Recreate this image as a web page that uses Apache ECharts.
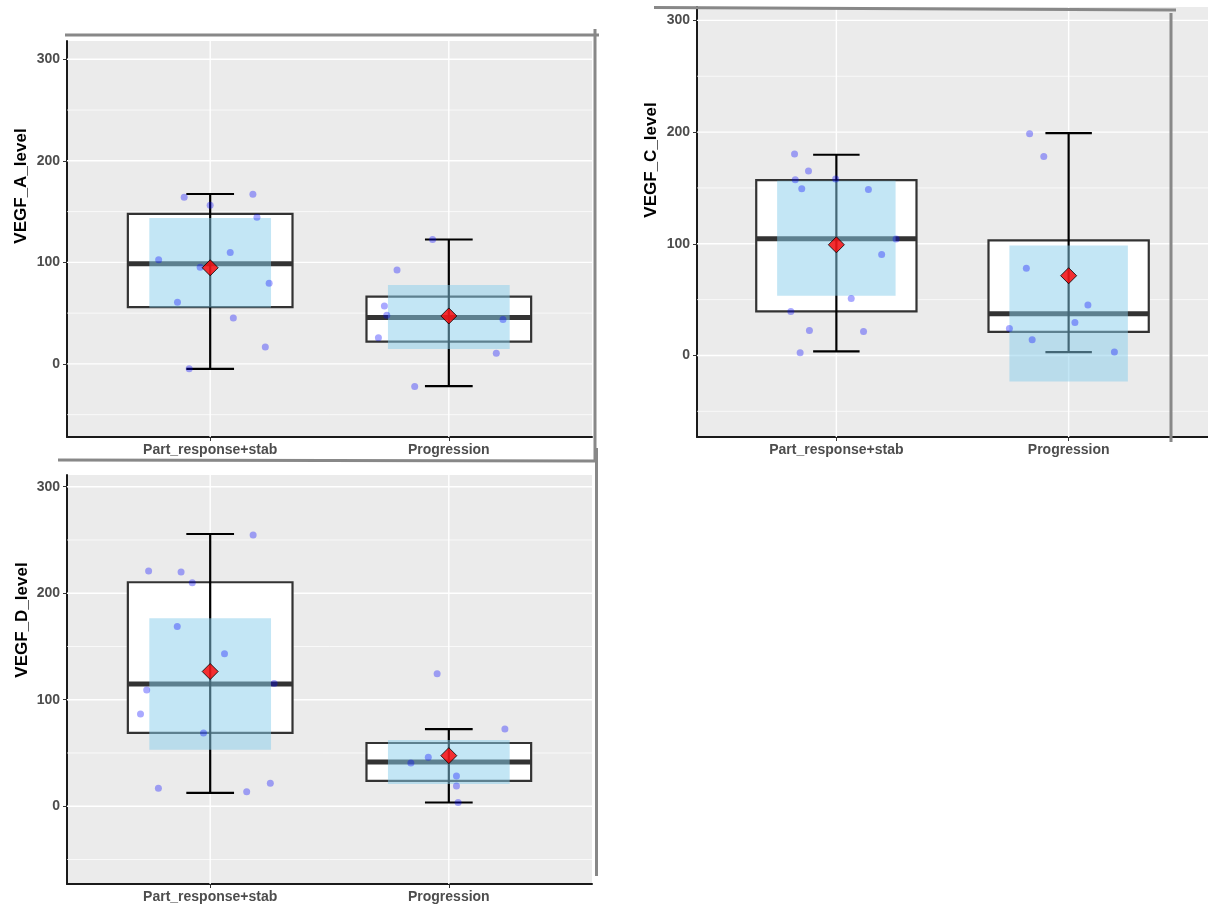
<!doctype html>
<html>
<head>
<meta charset="utf-8">
<title>VEGF levels</title>
<script src="https://cdn.jsdelivr.net/npm/echarts@6.0.0/dist/echarts.min.js"></script>
</head>
<body style="margin:0;padding:0;background:#fff;">
<div id="tb" style="width:1208px;height:904px;"></div>
<script>
var categories = ['Part_response+stab', 'Progression'];
var yTicks = [0, 100, 200, 300];
var yMinor = [-50, 50, 150, 250];

// VEGF_A (jitter = horizontal offset of each dot from its category)
var aResp = [164, 156.2, 167, 144.4, 102.6, 109.8, 95.1, 79.4, 60.8, 45.1, 16.7, -4.9];
var aRespJit = [-0.109, 0, 0.179, 0.196, -0.216, 0.084, -0.042, 0.247, -0.137, 0.097, 0.231, -0.088];
var aProg = [122.5, 92.5, 56.9, 48, 25.8, 43.8, 10.5, -22.2];
var aProgJit = [-0.068, -0.217, -0.27, -0.26, -0.295, 0.227, 0.199, -0.143];
var aBox = [[56, 98.7, 147.7], [21.9, 45.7, 66.3]];       // q1, median, q3
var aWhisker = [[-4.9, 167.3], [-21.9, 122.5]];
var aBand = [[55.5, 143.8], [14.7, 77.8]];
var aMean = [94.7, 47.2];

// VEGF_C
var cResp = [180.3, 165.1, 157.3, 157.9, 149.2, 148.6, 104.2, 90.4, 51, 39.4, 22.4, 21.5, 2.4];
var cRespJit = [-0.18, -0.12, -0.177, -0.003, -0.149, 0.138, 0.257, 0.195, 0.064, -0.196, -0.116, 0.117, -0.156];
var cProg = [198.5, 178.2, 78.2, 45.1, 29.5, 24.2, 14.1, 3.0];
var cProgJit = [-0.168, -0.107, -0.182, 0.083, 0.027, -0.255, -0.157, 0.197];
var cBox = [[39.4, 104.5, 157], [21.2, 37.3, 103]];
var cWhisker = [[3.6, 179.7], [3.0, 199.1]];
var cBand = [[53.4, 156.4], [-23.3, 98.5]];
var cMean = [99.1, 71.4];

// VEGF_D
var dResp = [254.6, 220.9, 220, 209.9, 168.7, 143.1, 115.3, 109.1, 86.6, 68.8, 21.6, 16.9, 13.5];
var dRespJit = [0.18, -0.258, -0.122, -0.075, -0.138, 0.06, 0.268, -0.266, -0.292, -0.028, 0.252, -0.217, 0.153];
var dProg = [124.4, 72.5, 45.9, 40.7, 28.5, 19.1, 3.5];
var dProgJit = [-0.049, 0.235, -0.086, -0.159, 0.032, 0.032, 0.039];
var dBox = [[68.8, 114.7, 210.3], [23.8, 41.6, 59.4]];
var dWhisker = [[12.6, 255.6], [3.5, 72.5]];
var dBand = [[53.1, 176.6], [21, 62.2]];
var dMean = [126.5, 47.5];

var panels = [
    { title: 'VEGF_A_level', resp: aResp, respJit: aRespJit, prog: aProg, progJit: aProgJit, box: aBox, whisker: aWhisker, band: aBand, mean: aMean, min: -72, max: 318 },
    { title: 'VEGF_C_level', resp: cResp, respJit: cRespJit, prog: cProg, progJit: cProgJit, box: cBox, whisker: cWhisker, band: cBand, mean: cMean, min: -73, max: 312 },
    { title: 'VEGF_D_level', resp: dResp, respJit: dRespJit, prog: dProg, progJit: dProgJit, box: dBox, whisker: dWhisker, band: dBand, mean: dMean, min: -73, max: 311 }
];

var grids = [
    { left: 67, top: 41, width: 525, height: 396 },
    { left: 697, top: 7, width: 514, height: 430 },
    { left: 67, top: 475, width: 525, height: 410 }
];
var titlePos = [[21, 186], [651, 160], [22, 620]];

var BOXW = 0.69, BANDW = 0.51, CAPW = 0.2;
var font = "'Liberation Sans', Arial, sans-serif";

function gridRender(params, api) {
    var cs = params.coordSys;
    var v = api.value(0), major = api.value(1), vert = api.value(2);
    var w = major ? 1.4 : 0.7;
    if (vert) {
        var px = api.coord([v, 0])[0];
        return { type: 'line', shape: { x1: px, y1: cs.y, x2: px, y2: cs.y + cs.height }, style: { stroke: '#fff', lineWidth: w } };
    }
    var py = api.coord([1, v])[1];
    return { type: 'line', shape: { x1: cs.x, y1: py, x2: cs.x + cs.width, y2: py }, style: { stroke: '#fff', lineWidth: w } };
}

function boxRender(params, api) {
    var x = api.value(0);
    var lo = api.coord([x - BOXW / 2, api.value(1)]);
    var hi = api.coord([x + BOXW / 2, api.value(3)]);
    var m1 = api.coord([x - BOXW / 2, api.value(2)]);
    var m2 = api.coord([x + BOXW / 2, api.value(2)]);
    return {
        type: 'group',
        children: [
            { type: 'rect', shape: { x: lo[0], y: hi[1], width: hi[0] - lo[0], height: lo[1] - hi[1] }, style: { fill: '#fff', stroke: '#333', lineWidth: 2.2 } },
            { type: 'line', shape: { x1: m1[0], y1: m1[1], x2: m2[0], y2: m2[1] }, style: { stroke: '#333', lineWidth: 5 } }
        ]
    };
}

function whiskerRender(params, api) {
    var x = api.value(0);
    var lo = api.coord([x, api.value(1)]);
    var hi = api.coord([x, api.value(2)]);
    var c1 = api.coord([x - CAPW / 2, api.value(1)]);
    var c2 = api.coord([x + CAPW / 2, api.value(2)]);
    var st = { stroke: '#000', lineWidth: 2.2 };
    return {
        type: 'group',
        children: [
            { type: 'line', shape: { x1: lo[0], y1: lo[1], x2: hi[0], y2: hi[1] }, style: st },
            { type: 'line', shape: { x1: c1[0], y1: lo[1], x2: c2[0], y2: lo[1] }, style: st },
            { type: 'line', shape: { x1: c1[0], y1: hi[1], x2: c2[0], y2: hi[1] }, style: st }
        ]
    };
}

function bandRender(params, api) {
    var x = api.value(0);
    var lo = api.coord([x - BANDW / 2, api.value(1)]);
    var hi = api.coord([x + BANDW / 2, api.value(2)]);
    return { type: 'rect', shape: { x: lo[0], y: hi[1], width: hi[0] - lo[0], height: lo[1] - hi[1] }, style: { fill: 'rgba(135,206,235,0.5)' } };
}

var xAxes = [], yAxes = [], series = [], graphics = [];
var gridData = yTicks.map(function (v) { return [v, 1, 0]; })
    .concat(yMinor.map(function (v) { return [v, 0, 0]; }))
    .concat([[1, 1, 1], [2, 1, 1]]);

panels.forEach(function (p, i) {
    xAxes.push({
        type: 'value', gridIndex: i, min: 0.4, max: 2.6,
        splitLine: { show: false },
        axisLine: { show: true, onZero: false, lineStyle: { color: '#1a1a1a', width: 2 } },
        axisTick: { show: true, customValues: [1, 2], length: 4, lineStyle: { color: '#333' } },
        axisLabel: {
            customValues: [1, 2], margin: 6, color: '#4d4d4d', fontWeight: 'bold', fontSize: 14, fontFamily: font,
            formatter: function (v) { return categories[Math.round(v) - 1]; }
        }
    });
    yAxes.push({
        type: 'value', gridIndex: i, min: p.min, max: p.max,
        splitLine: { show: false },
        axisLine: { show: true, onZero: false, lineStyle: { color: '#1a1a1a', width: 2 } },
        axisTick: { show: true, customValues: yTicks, length: 4, lineStyle: { color: '#333' } },
        axisLabel: { customValues: yTicks, margin: 7, color: '#4d4d4d', fontWeight: 'bold', fontSize: 14, fontFamily: font }
    });
    var pts = p.resp.map(function (v, k) { return [1 + p.respJit[k], v]; })
        .concat(p.prog.map(function (v, k) { return [2 + p.progJit[k], v]; }));
    series.push(
        { type: 'custom', xAxisIndex: i, yAxisIndex: i, silent: true, renderItem: gridRender, data: gridData },
        { type: 'custom', xAxisIndex: i, yAxisIndex: i, renderItem: boxRender, data: p.box.map(function (b, j) { return [j + 1, b[0], b[1], b[2]]; }) },
        { type: 'custom', xAxisIndex: i, yAxisIndex: i, renderItem: whiskerRender, data: p.whisker.map(function (b, j) { return [j + 1, b[0], b[1]]; }) },
        { type: 'custom', xAxisIndex: i, yAxisIndex: i, renderItem: bandRender, data: p.band.map(function (b, j) { return [j + 1, b[0], b[1]]; }) },
        { type: 'scatter', xAxisIndex: i, yAxisIndex: i, symbolSize: 7, itemStyle: { color: 'rgba(0,0,255,0.42)' }, data: pts },
        { type: 'scatter', xAxisIndex: i, yAxisIndex: i, symbol: 'diamond', symbolSize: 16, itemStyle: { color: '#ff0000', borderColor: '#000', borderWidth: 1 }, data: p.mean.map(function (v, j) { return [j + 1, v]; }) }
    );
    graphics.push({
        type: 'text', x: titlePos[i][0], y: titlePos[i][1], rotation: Math.PI / 2,
        style: { text: p.title, fill: '#000', font: 'bold 17px ' + font, align: 'center', verticalAlign: 'middle' }
    });
});

// gray frame lines left over from the screenshot crops
var frame = [
    [65, 35, 599, 35], [595, 29, 595, 460],
    [654, 7.5, 1176, 10], [1171, 13, 1171, 442],
    [58, 460, 597, 461], [596.5, 448, 596.5, 876]
];
frame.forEach(function (f) {
    graphics.push({ type: 'line', shape: { x1: f[0], y1: f[1], x2: f[2], y2: f[3] }, style: { stroke: '#888', lineWidth: 3 }, z: 100 });
});

var chart = echarts.init(document.getElementById('tb'));
chart.setOption({
    animation: false,
    textStyle: { fontFamily: font },
    grid: grids.map(function (g) {
        return { left: g.left, top: g.top, width: g.width, height: g.height, show: true, backgroundColor: '#ebebeb', borderWidth: 0 };
    }),
    xAxis: xAxes,
    yAxis: yAxes,
    series: series,
    graphic: graphics
});
</script>
</body>
</html>
